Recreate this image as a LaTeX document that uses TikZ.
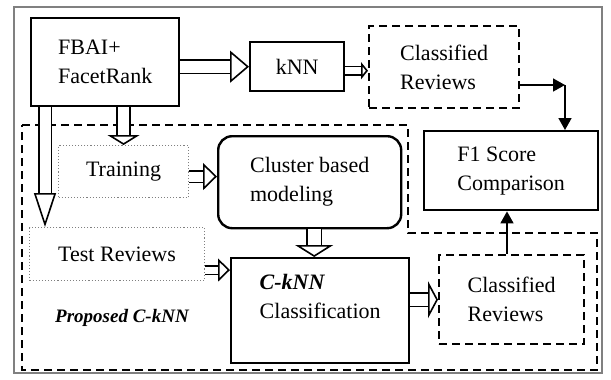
\documentclass[tikz,border=0pt]{standalone}
\usepackage{fontspec}
\setmainfont{Liberation Serif}
\usetikzlibrary{arrows.meta,positioning}
\tikzset{blk/.style={draw,line width=2.4pt,align=left,inner sep=0pt},
  dsh/.style={draw,line width=2.4pt,dash pattern=on 8pt off 5pt,align=left,inner sep=0pt},
  dot/.style={draw=gray,line width=1.1pt,dotted,align=left,inner sep=0pt},
  fat/.style n args={3}{double,double distance=#1,line width=1.6pt,-{Triangle[open,length=#2,width=#3]}},
  thin/.style={line width=1.6pt,-{Triangle[length=12pt,width=13pt]}}}

\begin{document}
\begin{tikzpicture}[x=1pt,y=-1pt,font=\fontsize{22}{29}\selectfont]
    \useasboundingbox (0,0) rectangle (611,380);
    \draw[gray,line width=1.8pt] (14,7) rectangle (602,373);
    % proposed part
    \draw[line width=2.2pt,dash pattern=on 8pt off 5pt] (22,125) -- (408,125) -- (408,233) -- (597,233) -- (597,370) -- (22,370) -- cycle;

    \node[blk,anchor=north west,minimum width=148pt,minimum height=88pt] (fb) at (30,17) {FBAI+\\FacetRank};
    \node[blk,anchor=north west,minimum width=94pt,minimum height=49pt] (knn) at (249,41) {kNN};
    \node[dsh,anchor=north west,minimum width=150pt,minimum height=82pt] (cr1) at (368,25) {Classified\\Reviews};
    \node[blk,anchor=north west,minimum width=174pt,minimum height=79pt] (f1) at (423,130) {F1 Score\\Comparison};
    \node[dot,anchor=north west,minimum width=130pt,minimum height=52pt] (tr) at (58,145) {Training};
    \node[blk,rounded corners=14pt,anchor=north west,minimum width=183pt,minimum height=92pt] (cl) at (217,135) {Cluster based\\modeling};
    \node[dot,anchor=north west,minimum width=175pt,minimum height=53pt] (ts) at (29,227) {Test Reviews};
    \node[blk,anchor=north west,minimum width=178pt,minimum height=105pt] (ck) at (230,257) {\textbf{\textit{C-kNN}}\\Classification\\\mbox{}};
    \node[dsh,anchor=north west,minimum width=145pt,minimum height=89pt] (cr2) at (438,254) {Classified\\Reviews};
    \node[font=\fontsize{19}{24}\selectfont\bfseries\itshape] (pr) at (122,318) {Proposed C-kNN};

    \coordinate (bend) at (565,85);

    \draw[fat={12pt}{19pt}{32pt}] (fb.east |- knn.west) -- (knn.west);
    \draw[fat={7pt}{7pt}{17pt}] ([yshift=-4pt]knn.east) -- ([yshift=-4pt]knn.east -| cr1.west);
    \draw[fat={11pt}{10pt}{32pt}] (tr.north |- fb.south) -- (tr.north);
    \draw[fat={11pt}{34pt}{22pt}] ([xshift=16pt]ts.north west |- fb.south) -- ([xshift=16pt]ts.north west);
    \draw[fat={10pt}{14pt}{27pt}] ([yshift=-5pt]tr.east) -- ([yshift=-5pt]tr.east -| cl.west);
    \draw[fat={13pt}{12pt}{38pt}] ([xshift=-6pt]ck.north |- cl.south) -- ([xshift=-6pt]ck.north);
    \draw[fat={7pt}{12pt}{23pt}] ([yshift=-16pt]ts.east) -- ([yshift=-16pt]ts.east -| ck.west);
    \draw[fat={12pt}{10pt}{37pt}] (ck.east |- cr2.west) -- (cr2.west);
    \draw[thin] (cr1.east |- bend) -- (bend);
    \draw[thin] (bend) -- (bend |- f1.north);
    \draw[thin] (cr2.north -| 507,0) -- (f1.south -| 507,0);
\end{tikzpicture}
\end{document}
